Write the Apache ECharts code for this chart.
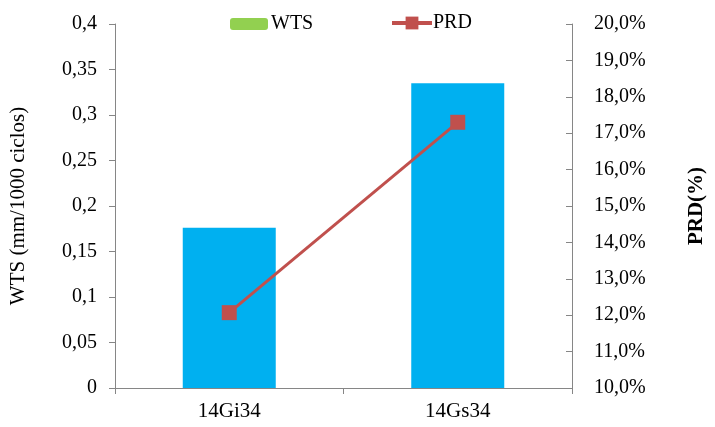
<!DOCTYPE html>
<html>
<head>
<meta charset="utf-8">
<script src="https://cdn.jsdelivr.net/npm/echarts@6/dist/echarts.min.js"></script>
<style>
  html, body { margin: 0; padding: 0; background: #fff; }
  #chart { width: 715px; height: 427px; }
</style>
</head>
<body>
<div id="chart"></div>
<script>
// Categories and measured values
const categories = ['14Gi34', '14Gs34'];
const wtsValues = [0.176, 0.335];      // WTS (mm/1000 ciclos)
const prdValues = [0.1207, 0.1730];    // PRD as a fraction

const FONT = 'Liberation Serif, Times New Roman, serif';
const AXIS_GRAY = '#868686';

const commaNum = v => parseFloat(v.toFixed(2)).toString().replace('.', ',');
const pct = v => (v * 100).toFixed(1).replace('.', ',') + '%';

const chart = echarts.init(document.getElementById('chart'), null, { renderer: 'canvas' });

chart.setOption({
  animation: false,
  backgroundColor: '#fff',
  textStyle: { fontFamily: FONT, color: '#000' },
  legend: [
    {
      data: [{ name: 'WTS', itemStyle: { color: '#92D050' } }],
      left: 225, top: 9,
      itemWidth: 38, itemHeight: 12, itemGap: 4,
      textStyle: { fontFamily: FONT, fontSize: 20, color: '#000', padding: [0, 0, 0, -2] }
    },
    {
      data: [{ name: 'PRD', lineStyle: { width: 4, color: '#C0504D' } }],
      left: 385, top: 8,
      itemWidth: 40, itemHeight: 16,
      textStyle: { fontFamily: FONT, fontSize: 20, color: '#000', padding: [0, 0, 0, -4] }
    }
  ],
  grid: { left: 115, right: 137, top: 24, bottom: 39 },
  xAxis: {
    type: 'category',
    data: categories,
    axisLine: { lineStyle: { color: AXIS_GRAY, width: 1 } },
    axisTick: { show: true, length: 6, alignWithLabel: false, lineStyle: { color: AXIS_GRAY } },
    axisLabel: { fontFamily: FONT, fontSize: 21, color: '#000', margin: 13 }
  },
  yAxis: [
    {
      type: 'value',
      min: 0, max: 0.4, interval: 0.05,
      name: 'WTS (mm/1000 ciclos)',
      nameLocation: 'middle',
      nameGap: 86,
      nameRotate: 90,
      nameTextStyle: { fontFamily: FONT, fontSize: 21, color: '#000' },
      axisLine: { show: true, lineStyle: { color: AXIS_GRAY } },
      axisTick: { show: true, length: 6, lineStyle: { color: AXIS_GRAY } },
      splitLine: { show: false },
      axisLabel: { fontFamily: FONT, fontSize: 20, color: '#000', margin: 18, formatter: commaNum }
    },
    {
      type: 'value',
      position: 'right',
      min: 0.10, max: 0.20, interval: 0.01,
      name: 'PRD(%)',
      nameLocation: 'middle',
      nameGap: 114,
      nameRotate: 90,
      nameTextStyle: { fontFamily: FONT, fontSize: 21, fontWeight: 'bold', color: '#000' },
      axisLine: { show: true, lineStyle: { color: AXIS_GRAY } },
      axisTick: { show: true, inside: true, length: 6, lineStyle: { color: AXIS_GRAY } },
      splitLine: { show: false },
      axisLabel: { fontFamily: FONT, fontSize: 20, color: '#000', margin: 22, formatter: pct }
    }
  ],
  series: [
    {
      name: 'WTS',
      type: 'bar',
      yAxisIndex: 0,
      data: wtsValues,
      barWidth: 93,
      itemStyle: { color: '#00B0F0' }
    },
    {
      name: 'PRD',
      type: 'line',
      yAxisIndex: 1,
      data: prdValues,
      symbol: 'rect',
      symbolSize: 15,
      lineStyle: { color: '#C0504D', width: 3 },
      itemStyle: { color: '#C0504D' }
    }
  ]
});
</script>
</body>
</html>
